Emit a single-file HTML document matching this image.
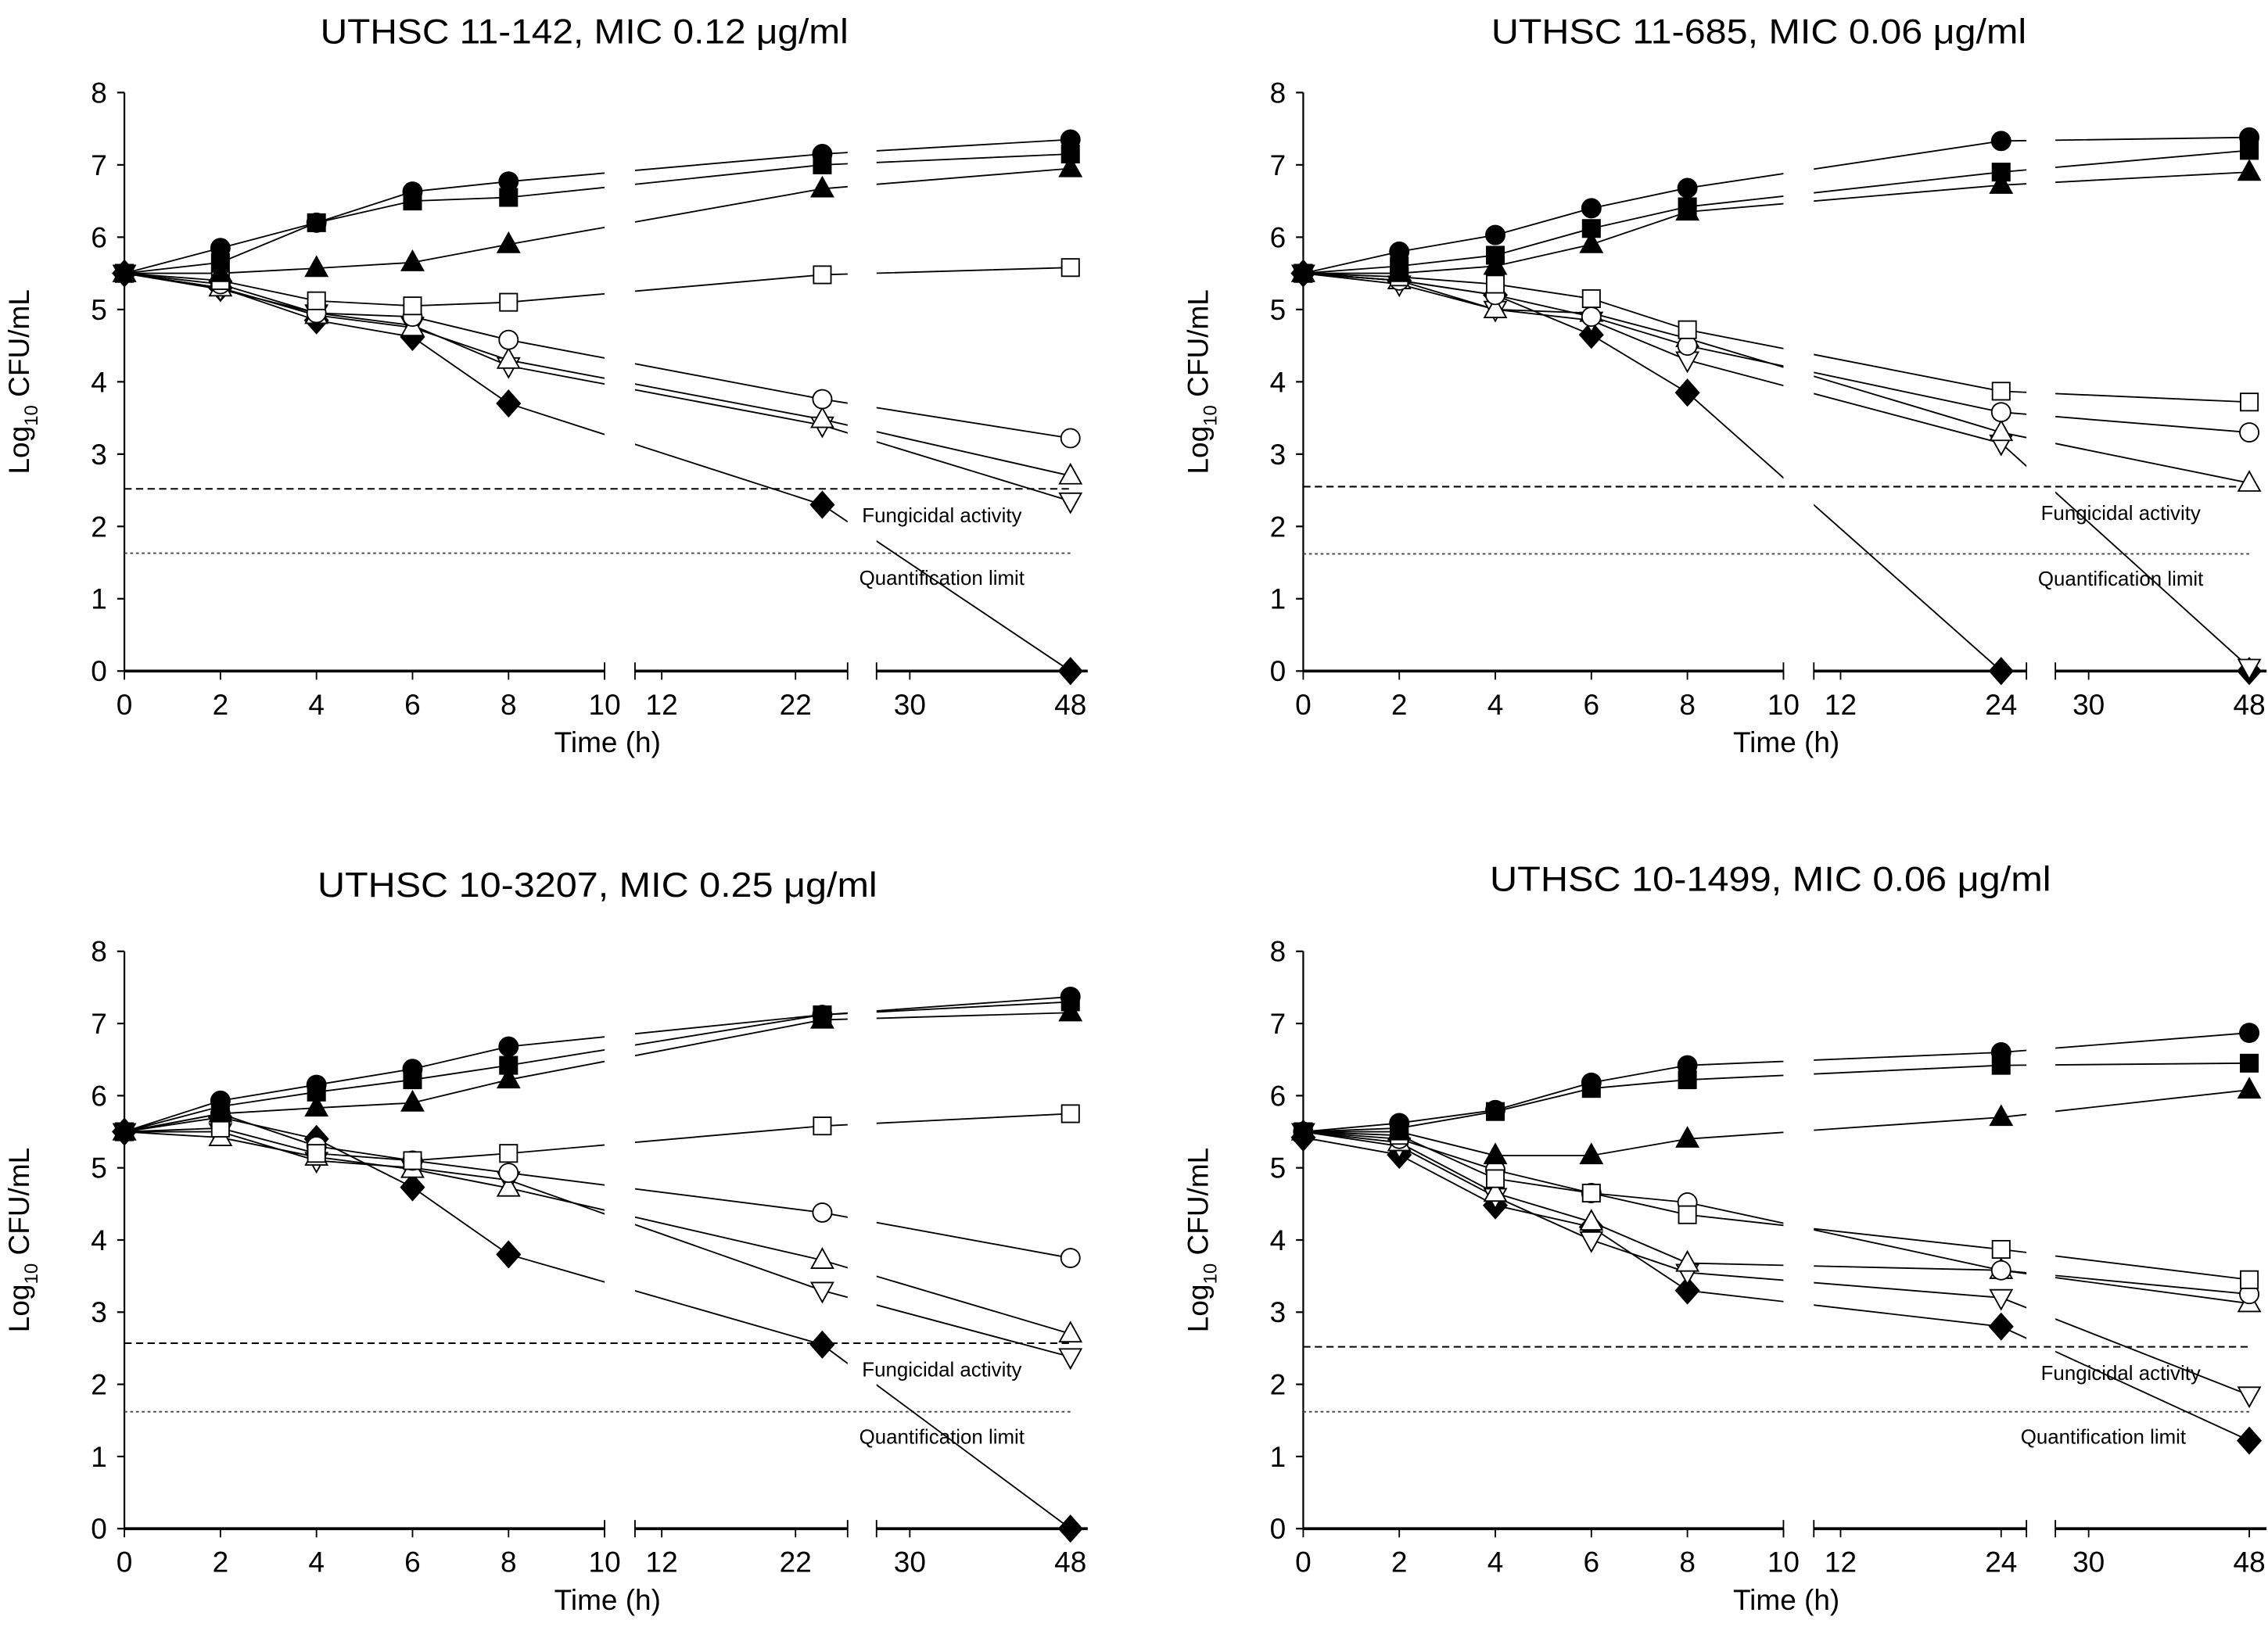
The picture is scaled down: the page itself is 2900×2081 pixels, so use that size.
<!DOCTYPE html>
<html><head><meta charset="utf-8"><style>html,body{margin:0;padding:0;background:#fff}svg{display:block}text{font-family:"Liberation Sans",Arial,sans-serif;fill:#000}</style></head>
<body>
<svg id="chart" xmlns="http://www.w3.org/2000/svg" width="2900" height="2081" viewBox="0 0 1568 1125" preserveAspectRatio="none"></svg>
<script>
const times=[0,2,4,6,8,24,48];
const panelTitles=["UTHSC 11-142, MIC 0.12 \u03bcg/ml","UTHSC 11-685, MIC 0.06 \u03bcg/ml","UTHSC 10-3207, MIC 0.25 \u03bcg/ml","UTHSC 10-1499, MIC 0.06 \u03bcg/ml"];
const titleWidths=[365,370,387,388];
const markerTypes=["circleF","squareF","triF","squareO","circleO","triO","invO","diamondF"];
const seriesNames=["growth-control","filled-square","filled-triangle","open-square","open-circle","open-triangle","open-inverted-triangle","filled-diamond"];
const midTickLabelsLeft=[12,22];
const midTickLabelsRight=[12,24];
const yTicks=[0,1,2,3,4,5,6,7,8];
const fungicidal=[2.52,2.55,2.57,2.52];
const quantLimit=[1.63,1.62,1.62,1.62];
const tl=[[5.5,5.85,6.2,6.63,6.77,7.15,7.35],[5.5,5.65,6.2,6.5,6.55,7.0,7.15],[5.5,5.5,5.57,5.65,5.9,6.67,6.95],[5.5,5.4,5.12,5.05,5.1,5.48,5.58],[5.5,5.35,4.95,4.9,4.58,3.76,3.22],[5.5,5.3,4.92,4.75,4.3,3.48,2.7],[5.5,5.28,4.95,4.78,4.22,3.4,2.35],[5.5,5.3,4.85,4.62,3.7,2.3,0]];
const tr=[[5.5,5.8,6.03,6.4,6.68,7.33,7.38],[5.5,5.6,5.75,6.12,6.42,6.9,7.2],[5.5,5.5,5.6,5.9,6.35,6.72,6.9],[5.5,5.45,5.35,5.15,4.72,3.87,3.72],[5.5,5.4,5.2,4.9,4.5,3.58,3.3],[5.5,5.4,5.0,4.95,4.6,3.3,2.6],[5.5,5.35,5.0,4.85,4.3,3.15,0.05],[5.5,5.4,5.2,4.65,3.85,0,0]];
const bl=[[5.5,5.93,6.15,6.37,6.68,7.12,7.37],[5.5,5.85,6.05,6.22,6.42,7.12,7.3],[5.5,5.75,5.83,5.9,6.22,7.05,7.15],[5.5,5.55,5.2,5.1,5.2,5.58,5.75],[5.5,5.75,5.3,5.1,4.93,4.38,3.75],[5.5,5.42,5.15,4.98,4.72,3.72,2.7],[5.5,5.5,5.1,5.0,4.83,3.3,2.38],[5.5,5.7,5.4,4.73,3.8,2.55,0]];
const br=[[5.5,5.62,5.8,6.18,6.42,6.6,6.87],[5.5,5.55,5.78,6.1,6.22,6.42,6.45],[5.5,5.5,5.17,5.17,5.4,5.7,6.08],[5.5,5.45,4.85,4.65,4.35,3.87,3.45],[5.5,5.4,4.97,4.65,4.52,3.58,3.25],[5.5,5.35,4.65,4.25,3.68,3.58,3.12],[5.5,5.3,4.6,4.0,3.55,3.2,1.85],[5.42,5.18,4.48,4.18,3.3,2.8,1.22]];
const panelData=[tl,tr,bl,br];

const NS="http://www.w3.org/2000/svg";
const svg=document.getElementById('chart');
function mk(tag,attrs,parent){const e=document.createElementNS(NS,tag);for(const k in attrs)e.setAttribute(k,attrs[k]);(parent||svg).appendChild(e);return e;}
const geo=[{ox:86,y0:464,yu:50,tx:404,ty:30},{ox:901,y0:464,yu:50,tx:1216,ty:30},{ox:86,y0:1057,yu:49.9,tx:413,ty:620},{ox:901,y0:1057,yu:49.9,tx:1224,ty:616}];
function xMap(h,ox){if(h<=10.5)return ox+h*33.2;if(h<=27)return ox+371.5+(h-12)*9.25;return ox+543+(h-30)*6.17;}

panelData.forEach((data,p)=>{
  const g=geo[p];
  const yMap=v=>g.y0-v*g.yu;
  const grp=mk('g',{});
  
  
  const t=mk('text',{x:g.tx,y:g.ty,'text-anchor':'middle','font-size':24,textLength:titleWidths[p],lengthAdjust:'spacingAndGlyphs'},grp);t.textContent=panelTitles[p];
  
  
  const ya=mk('line',{x1:g.ox,x2:g.ox,y1:yMap(8),y2:yMap(0),stroke:'#000','stroke-width':1.2},grp);
  
  
  yTicks.forEach(v=>{
    mk('line',{x1:g.ox-5,x2:g.ox,y1:yMap(v),y2:yMap(v),stroke:'#000','stroke-width':1.2},grp);
    const l=mk('text',{x:g.ox-12,y:yMap(v)+7,'text-anchor':'end','font-size':20},grp);l.textContent=v;
    
    
  });
  const yt=mk('text',{transform:`translate(${g.ox-66},${yMap(4)}) rotate(-90)`,'text-anchor':'middle','font-size':20},grp);
  yt.innerHTML='Log<tspan font-size="13" dy="6">10</tspan><tspan dy="-6"> CFU/mL</tspan>';
  
  
  const ay=yMap(0);
  const segs=[[g.ox,g.ox+332],[g.ox+353,g.ox+500],[g.ox+520,g.ox+666]];
  segs.forEach((s,i)=>{
    const a=mk('line',{x1:s[0],x2:s[1],y1:ay,y2:ay,stroke:'#000','stroke-width':2},grp);
    
    
    if(i>0)mk('line',{x1:s[0],x2:s[0],y1:ay-6,y2:ay+6,stroke:'#000','stroke-width':1},grp);
    if(i<2)mk('line',{x1:s[1],x2:s[1],y1:ay-6,y2:ay+6,stroke:'#000','stroke-width':1},grp);
  });
  const mids=(p%2===0)?midTickLabelsLeft:midTickLabelsRight;
  const xt=[0,2,4,6,8,10].concat(mids,[30,48]);
  xt.forEach(h=>{
    const x=xMap(h,g.ox);
    mk('line',{x1:x,x2:x,y1:ay,y2:ay+6,stroke:'#000','stroke-width':1},grp);
    const l=mk('text',{x:x,y:ay+30,'text-anchor':'middle','font-size':20},grp);l.textContent=h;
    
    
  });
  const xtt=mk('text',{x:g.ox+334,y:ay+56,'text-anchor':'middle','font-size':20},grp);xtt.textContent='Time (h)';
  
  
  const fl=mk('line',{x1:g.ox,x2:g.ox+656,y1:yMap(fungicidal[p]),y2:yMap(fungicidal[p]),stroke:'#000','stroke-width':1.1,'stroke-dasharray':'5,3'},grp);
  
  
  const ql=mk('line',{x1:g.ox,x2:g.ox+656,y1:yMap(quantLimit[p]),y2:yMap(quantLimit[p]),stroke:'#444','stroke-width':1,'stroke-dasharray':'2,2'},grp);
  
  
  const ft=mk('text',{x:g.ox+510,y:yMap(fungicidal[p])+23,'font-size':14},grp);ft.textContent='Fungicidal activity';
  
  
  const qt=mk('text',{x:g.ox+(p===3?496:508),y:yMap(quantLimit[p])+22,'font-size':14},grp);qt.textContent='Quantification limit';
  
  
  const cp=mk('clipPath',{id:'clip'+p},grp);
  segs.forEach((s,i)=>mk('rect',{x:i===0?s[0]-20:s[0],y:0,width:(s[1]-s[0])+(i===0?20:0)+(i===2?30:0),height:1125},cp));
  data.forEach((vals,si)=>{
    const pts=vals.map((v,i)=>xMap(times[i],g.ox)+','+yMap(v)).join(' ');
    const pl=mk('polyline',{points:pts,fill:'none',stroke:'#000','stroke-width':1,'clip-path':`url(#clip${p})`},grp);
    
    
  });
  data.slice().reverse().forEach((vals,ri)=>{
    const si=data.length-1-ri;const type=markerTypes[si];
    vals.forEach((v,i)=>{
      const x=xMap(times[i],g.ox),y=yMap(v);
      const filled=type.endsWith('F');const fill=filled?'#000':'#fff';
      let m;
      if(type.startsWith('circle'))m=mk('circle',{cx:x,cy:y,r:6.5,fill:fill,stroke:'#000','stroke-width':1},grp);
      else if(type.startsWith('square'))m=mk('rect',{x:x-6,y:y-6,width:12,height:12,fill:fill,stroke:'#000','stroke-width':1},grp);
      else if(type.startsWith('tri'))m=mk('polygon',{points:`${x},${y-8} ${x-7.5},${y+5.5} ${x+7.5},${y+5.5}`,fill:fill,stroke:'#000','stroke-width':1},grp);
      else if(type.startsWith('inv'))m=mk('polygon',{points:`${x},${y+8} ${x-7.5},${y-5.5} ${x+7.5},${y-5.5}`,fill:fill,stroke:'#000','stroke-width':1},grp);
      else m=mk('polygon',{points:`${x},${y-9} ${x+8},${y} ${x},${y+9} ${x-8},${y}`,fill:fill,stroke:'#000','stroke-width':1},grp);
      
      
    });
  });
});
</script>
</body></html>
